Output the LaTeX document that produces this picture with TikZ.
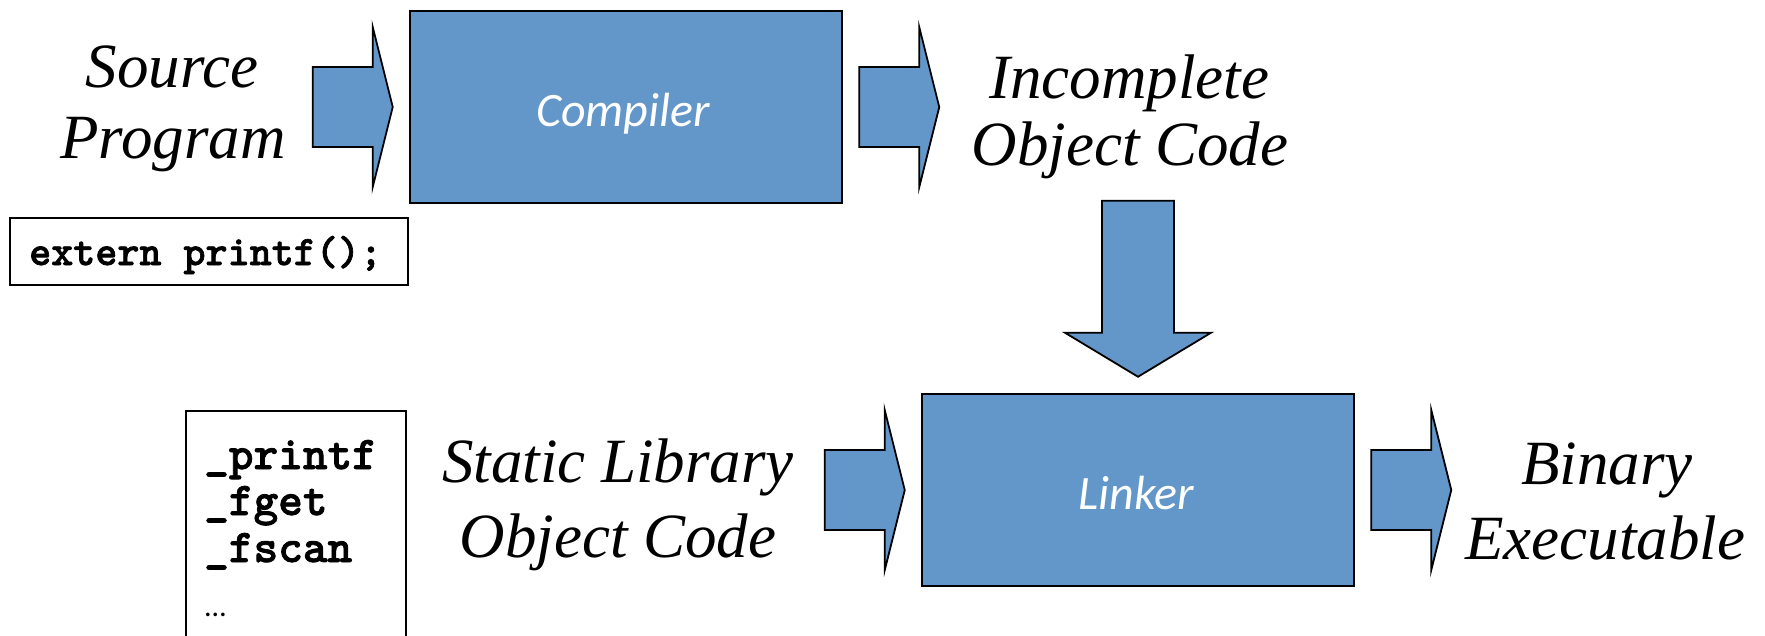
\documentclass[tikz,border=0pt]{standalone}
\usepackage{fontspec}
\setmainfont{Liberation Serif}
\newfontfamily\calibri{Carlito}
\newfontfamily\codefont{lmmonolt10-bold.otf}[FakeBold=1.6]
\usetikzlibrary{calc}

\definecolor{boxblue}{RGB}{99,151,201}

\tikzset{
  stage/.style={draw=black, line width=2.5pt, fill=boxblue, minimum width=432pt,
                minimum height=192pt, inner sep=0pt},
  stagelabel/.style={anchor=base, inner sep=0pt, text=white,
                     font=\calibri\itshape\fontsize{48}{56}\selectfont},
  flowarrow/.style={draw=black, line width=1.8pt, fill=boxblue, line join=miter},
  caption/.style={anchor=base, inner sep=0pt, font=\itshape\fontsize{63}{74}\selectfont},
  codebox/.style={draw=black, line width=2pt},
  codeline/.style={anchor=base west, inner sep=0pt},
  % right-pointing block arrow, placed by its tip
  rarrow/.pic={
    \draw[flowarrow] (0,0) -- ++(-20,-80) -- ++(0,40) -- ++(-60,0) -- ++(0,80)
      -- ++(60,0) -- ++(0,40) -- cycle;
  }
}

\begin{document}
\begin{tikzpicture}[x=1pt, y=-1pt]
\useasboundingbox (0,0) rectangle (1765,635);
\clip (0,0) rectangle (1765,635);

% processing stages
\node[stage] (compiler) at (626,107) {};
\node[stagelabel] (compilertext) at (623,126) {Compiler};
\node[stage] (linker) at (1138,490) {};
\node[stagelabel] (linkertext) at (1136,509) {Linker};

% source side
\node[caption] (src1) at (172,87) {Source};
\node[caption] (src2) at (173,158) {Program};
\pic at ($(compiler.west)+(-16,0)$) {rarrow};

\draw[codebox] (10,218) rectangle (408,285);
\node[codeline, font=\codefont\fontsize{42}{48}\selectfont] (externdecl)
  at (29,265) {extern printf();};

% compiler output
\pic at ($(compiler.east)+(96,0)$) {rarrow};
\node[caption] (obj1) at (1129,98) {Incomplete};
\node[caption] (obj2) at (1130,165) {Object Code};

% down into the linker
\coordinate (downtip) at ($(linker.north)+(0,-16)$);
\draw[flowarrow] (downtip) -- ++(-73,-44) -- ++(37,0) -- ++(0,-132) -- ++(72,0)
  -- ++(0,132) -- ++(37,0) -- cycle;

% static library
\draw[codebox] (186,650) -- (186,411) -- (406,411) -- (406,650);
\begin{scope}[font=\codefont\fontsize{47}{54}\selectfont]
  \node[codeline] (sym1) at (204,469) {\_printf};
  \node[codeline] (sym2) at (204,515) {\_fget};
  \node[codeline] (sym3) at (204,562) {\_fscan};
\end{scope}
\node[codeline, font=\calibri\fontsize{30}{36}\selectfont] (symmore) at (205,616) {…};

\node[caption] (lib1) at (618,482) {Static Library};
\node[caption] (lib2) at (618,557) {Object Code};
\pic at ($(linker.west)+(-16,0)$) {rarrow};

% linker output
\pic at ($(linker.east)+(96,0)$) {rarrow};
\node[caption] (bin1) at (1607,484) {Binary};
\node[caption] (bin2) at (1605,559) {Executable};
\end{tikzpicture}
\end{document}
